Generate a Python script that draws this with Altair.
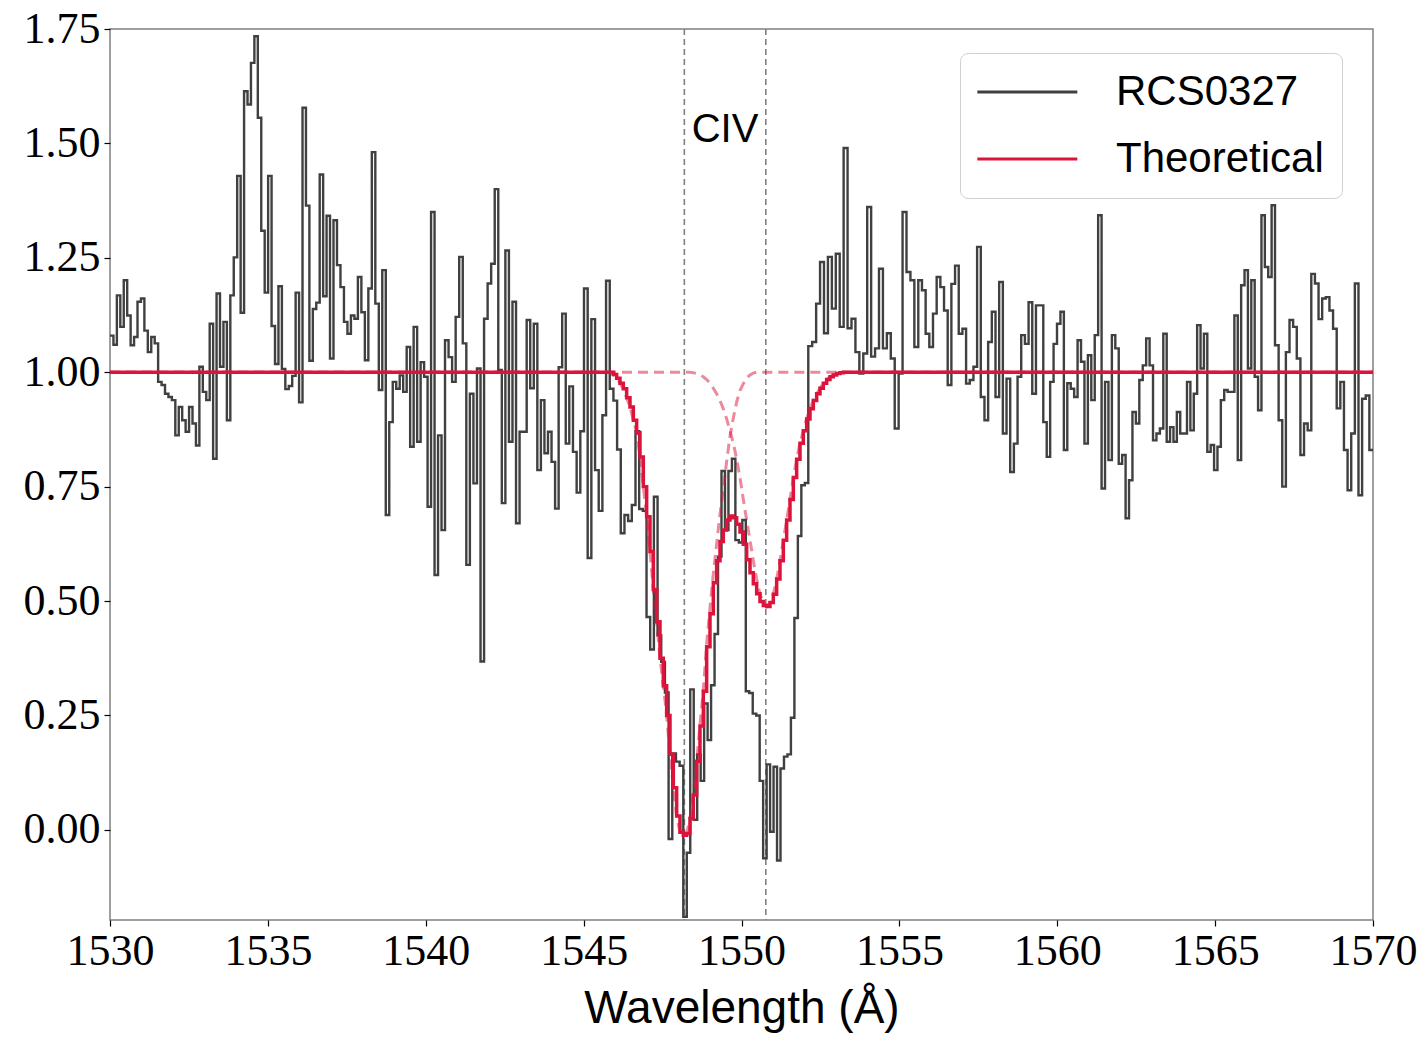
import altair as alt
import numpy as np
import pandas as pd

# ---------------- observed spectrum (read from the figure) ----------------
# segment boundaries in Angstrom; each segment holds equally spaced bins
SEG_EDGES = [1530.000, 1536.968, 1540.610, 1544.546, 1548.157, 1552.115,
             1555.599, 1559.558, 1563.359, 1566.896, 1570.000]

FLUX_A = [1.08, 1.06, 1.168, 1.099, 1.201, 1.124, 1.059, 1.077, 1.154, 1.161,
          1.091, 1.044, 1.077, 1.063, 0.979, 0.972, 0.953, 0.946, 0.939, 0.862,
          0.924, 0.895, 0.870, 0.924, 0.888, 0.840, 1.012, 0.957, 0.939, 1.106,
          0.811, 1.172, 1.012, 1.110, 0.895, 1.168, 1.251, 1.429, 1.130, 1.614,
          1.585, 1.676, 1.734, 1.556, 1.309, 1.174, 1.429, 1.101, 1.018, 1.188,
          1.007, 0.963, 0.970, 0.992, 1.174, 0.934, 1.578, 1.364, 1.025, 1.138,
          1.152, 1.432, 1.166, 1.342]
FLUX_B = [1.030, 1.332, 1.234, 1.186, 1.110, 1.084, 1.124, 1.117, 1.208, 1.131,
          1.026, 1.183, 1.481, 1.150, 0.961, 1.223, 0.688, 0.891, 0.979, 0.964,
          0.993, 0.957, 1.055, 0.837, 1.099, 0.848, 1.022, 0.990, 0.706, 1.350,
          0.557, 0.862, 0.655]
FLUX_C = [1.070, 1.033, 0.979, 1.121, 1.252, 1.063, 0.579, 0.953, 0.757, 1.008,
          0.368, 1.117, 1.194, 1.237, 1.400, 1.005, 0.714, 1.266, 0.848, 1.154,
          0.670, 0.870, 0.870, 1.114, 0.965, 1.106, 0.786, 0.939, 0.823, 0.870,
          0.804, 0.702, 1.011, 1.128, 0.844]
FLUX_D = [0.969, 0.826, 0.737, 0.871, 1.183, 0.594, 1.116, 0.786, 0.697, 0.906,
          1.200, 0.964, 0.938, 0.831, 0.648, 0.688, 0.675, 0.710, 0.871, 0.701,
          0.697, 0.465, 0.394, 0.728, 0.425, 0.367, 0.300, -0.020, 0.167, 0.149,
          0.140]
FLUX_E = [-0.190, -0.050, 0.307, 0.022, 0.165, 0.107, 0.276, 0.196, 0.316, 0.428,
          0.597, 0.784, 0.655, 0.784, 0.811, 0.633, 0.628, 0.677, 0.303, 0.299,
          0.254, 0.250, 0.107, -0.062, 0.143, -0.004, 0.138, -0.067, 0.134, 0.160,
          0.165, 0.245, 0.463, 0.642, 0.753, 0.758]
FLUX_F = [1.057, 1.066, 1.150, 1.241, 1.085, 1.252, 1.139, 1.259, 1.099, 1.490,
          1.096, 1.117, 1.044, 0.997, 1.041, 1.361, 1.034, 1.052, 1.226, 1.052,
          1.085, 1.030, 0.877, 0.997, 1.350, 1.219, 1.201, 1.055]
FLUX_G = [1.201, 1.179, 1.084, 1.055, 1.128, 1.208, 1.186, 1.135, 0.972, 1.193,
          1.233, 1.084, 1.095, 0.975, 0.983, 1.012, 1.274, 0.946, 0.895, 1.066,
          1.132, 0.946, 1.197, 0.866, 0.986, 0.782, 0.844, 0.990, 1.081, 1.062,
          1.153, 0.953, 1.146, 1.146]
FLUX_H = [0.891, 0.815, 0.979, 1.062, 1.106, 1.132, 0.830, 0.976, 0.964, 0.946,
          1.070, 1.023, 0.844, 1.037, 0.939, 1.081, 1.343, 0.746, 0.979, 0.808,
          1.081, 1.052, 0.800, 0.819, 0.681, 0.764, 0.913, 0.888, 0.983, 1.015,
          1.074, 1.015, 0.851, 0.866, 0.877]
FLUX_I = [1.084, 0.848, 0.880, 0.848, 0.913, 0.866, 0.866, 0.979, 0.873, 0.953,
          1.103, 1.008, 1.084, 0.826, 0.841, 0.786, 0.837, 0.939, 0.961, 0.957,
          0.957, 1.124, 0.808, 1.190, 1.223, 1.008, 1.201, 0.990, 0.917, 1.343,
          1.230, 1.208, 1.365]
FLUX_J = [1.059, 0.895, 0.750, 1.044, 1.114, 1.099, 1.030, 0.819, 0.888, 0.873,
          1.215, 1.194, 1.116, 1.161, 1.164, 1.135, 1.095, 0.921, 0.979, 0.830,
          0.742, 0.866, 1.194, 0.731, 0.942, 0.949, 0.830]

SEGMENTS = [FLUX_A, FLUX_B, FLUX_C, FLUX_D, FLUX_E, FLUX_F, FLUX_G, FLUX_H, FLUX_I, FLUX_J]

# ---------------- theoretical model ----------------
MODEL_START = 1545.835
MODEL_STEP = 0.10557
MODEL_TOTAL = [1.000, 0.995, 0.987, 0.976, 0.964, 0.944, 0.924, 0.895, 0.868, 0.815,
               0.750, 0.684, 0.608, 0.525, 0.455, 0.375, 0.315, 0.250, 0.165, 0.092,
               0.030, -0.005, -0.012, -0.008, 0.025, 0.076, 0.150, 0.227, 0.303, 0.400,
               0.472, 0.540, 0.588, 0.630, 0.655, 0.677, 0.686, 0.682, 0.668, 0.651,
               0.624, 0.590, 0.562, 0.538, 0.516, 0.499, 0.490, 0.488, 0.497, 0.515,
               0.548, 0.588, 0.633, 0.677, 0.722, 0.770, 0.810, 0.845, 0.872, 0.898,
               0.920, 0.938, 0.953, 0.965, 0.976, 0.984, 0.990, 0.994, 0.997, 0.999,
               1.000]
COMP_1548 = [1.000, 0.995, 0.987, 0.976, 0.964, 0.944, 0.924, 0.895, 0.868, 0.815,
             0.750, 0.684, 0.608, 0.525, 0.455, 0.375, 0.315, 0.250, 0.165, 0.092,
             0.030, -0.005, -0.012, -0.008, 0.025, 0.076, 0.150, 0.229, 0.306, 0.407,
             0.484, 0.560, 0.625, 0.690, 0.745, 0.805, 0.860, 0.900, 0.935, 0.960,
             0.975, 0.987, 0.994, 0.998, 1.000, 1.000, 1.000, 1.000, 1.000, 1.000,
             1.000, 1.000, 1.000, 1.000, 1.000, 1.000, 1.000, 1.000, 1.000, 1.000,
             1.000, 1.000, 1.000, 1.000, 1.000, 1.000, 1.000, 1.000, 1.000, 1.000,
             1.000]
COMP_1551 = [1.000, 1.000, 1.000, 1.000, 1.000, 1.000, 1.000, 1.000, 1.000, 1.000,
             1.000, 1.000, 1.000, 1.000, 1.000, 1.000, 1.000, 1.000, 1.000, 1.000,
             1.000, 1.000, 1.000, 1.000, 1.000, 0.999, 0.997, 0.994, 0.990, 0.984,
             0.976, 0.965, 0.953, 0.938, 0.920, 0.898, 0.872, 0.845, 0.810, 0.770,
             0.722, 0.677, 0.633, 0.588, 0.548, 0.515, 0.497, 0.488, 0.497, 0.515,
             0.548, 0.588, 0.633, 0.677, 0.722, 0.770, 0.810, 0.845, 0.872, 0.898,
             0.920, 0.938, 0.953, 0.965, 0.976, 0.984, 0.990, 0.994, 0.997, 0.999,
             1.000]

CIV_WAVES = [1548.19, 1550.77]
CIV_LABEL = ["CIV"]
CIV_LABEL_POS = [1549.48, 1.530]

SERIES = ["RCS0327", "Theoretical"]
SERIES_COLORS = ["#404040", "#dc143c"]
X_TICKS = [1530, 1535, 1540, 1545, 1550, 1555, 1560, 1565, 1570]
Y_TICKS = [0.0, 0.25, 0.5, 0.75, 1.0, 1.25, 1.5, 1.75]

# ---------------- tables ----------------
waves, fluxes = [], []
for i, seg in enumerate(SEGMENTS):
    lo, hi = SEG_EDGES[i], SEG_EDGES[i + 1]
    step = (hi - lo) / len(seg)
    waves.extend(lo + step * np.arange(len(seg)))
    fluxes.extend(seg)
waves.append(SEG_EDGES[-1])
fluxes.append(SEGMENTS[-1][-1])
df_obs = pd.DataFrame({"wave": waves, "flux": fluxes, "series": SERIES[0]})

mw = list(MODEL_START + MODEL_STEP * np.arange(len(MODEL_TOTAL)))
mwave = [1530.0] + mw + [1570.0]
df_model = pd.DataFrame({"wave": mwave, "flux": [1.0] + MODEL_TOTAL + [1.0],
                         "series": SERIES[1]})
df_comp = pd.concat([
    pd.DataFrame({"wave": mwave, "flux": [1.0] + COMP_1548 + [1.0], "comp": "1548"}),
    pd.DataFrame({"wave": mwave, "flux": [1.0] + COMP_1551 + [1.0], "comp": "1551"}),
])
df_lines = pd.DataFrame({"wave": CIV_WAVES})
df_text = pd.DataFrame({"wave": [CIV_LABEL_POS[0]], "flux": [CIV_LABEL_POS[1]],
                        "label": CIV_LABEL})

# ---------------- encodings ----------------
xs = alt.Scale(domain=[1530, 1570], nice=False, zero=False)
ys = alt.Scale(domain=[-0.197, 1.75], nice=False, zero=False)

x_axis = alt.Axis(values=X_TICKS, format="d", title="Wavelength (Å)",
                  labelFont="Liberation Serif", labelFontSize=44, labelColor="black",
                  titleFont="Liberation Sans", titleFontSize=46, titleFontWeight="normal",
                  titleColor="black", titlePadding=13, tickSize=6, tickWidth=1.2,
                  tickColor="black", labelPadding=3, grid=False, domain=False,
                  labelFlush=False, labelOverlap=False)
y_axis = alt.Axis(values=Y_TICKS, format=".2f", title=None,
                  labelFont="Liberation Serif", labelFontSize=44, labelColor="black",
                  tickSize=6, tickWidth=1.2, tickColor="black", labelPadding=4,
                  grid=False, domain=False, labelFlush=False, labelOverlap=False)

color_scale = alt.Scale(domain=SERIES, range=SERIES_COLORS)
legend = alt.Legend(title=None, orient="none", legendX=850, legendY=24,
                    symbolType="M-1,0L5,0", symbolSize=1111, symbolStrokeWidth=3,
                    symbolOffset=-5,
                    labelFont="Liberation Sans", labelFontSize=42, labelColor="black",
                    labelOffset=101, labelLimit=400, padding=18, rowPadding=25,
                    strokeColor="#d0d0d0", cornerRadius=8, fillColor="white")

rules = alt.Chart(df_lines).mark_rule(color="#808080", strokeDash=[6, 4],
                                      strokeWidth=1.6).encode(
    x=alt.X("wave:Q", scale=xs))

obs = alt.Chart(df_obs).mark_line(interpolate="step-after", strokeWidth=2.4,
                                  clip=True).encode(
    x=alt.X("wave:Q", scale=xs, axis=x_axis),
    y=alt.Y("flux:Q", scale=ys, axis=y_axis),
    color=alt.Color("series:N", scale=color_scale, legend=legend),
)

comps = alt.Chart(df_comp).mark_line(strokeWidth=3, strokeDash=[10, 6], opacity=0.5,
                                     color="#dc143c", clip=True).encode(
    x=alt.X("wave:Q", scale=xs),
    y=alt.Y("flux:Q", scale=ys),
    detail="comp:N",
)

model = alt.Chart(df_model).mark_line(interpolate="step-after", strokeWidth=3.5,
                                      clip=True).encode(
    x=alt.X("wave:Q", scale=xs),
    y=alt.Y("flux:Q", scale=ys),
    color=alt.Color("series:N", scale=color_scale, legend=legend),
)

text = alt.Chart(df_text).mark_text(font="Liberation Sans", fontSize=40, align="center",
                                    baseline="middle", color="black").encode(
    x=alt.X("wave:Q", scale=xs),
    y=alt.Y("flux:Q", scale=ys),
    text="label:N",
)

chart = alt.layer(rules, obs, comps, model, text).properties(
    width=1263, height=891,
    autosize=alt.AutoSizeParams(type="none"),
    padding={"left": 110, "top": 29, "right": 50, "bottom": 119},
    background="white",
).configure_view(stroke="#808080", strokeWidth=1.5)

chart.save("out.html", embed_options={"renderer": "svg", "actions": False})
